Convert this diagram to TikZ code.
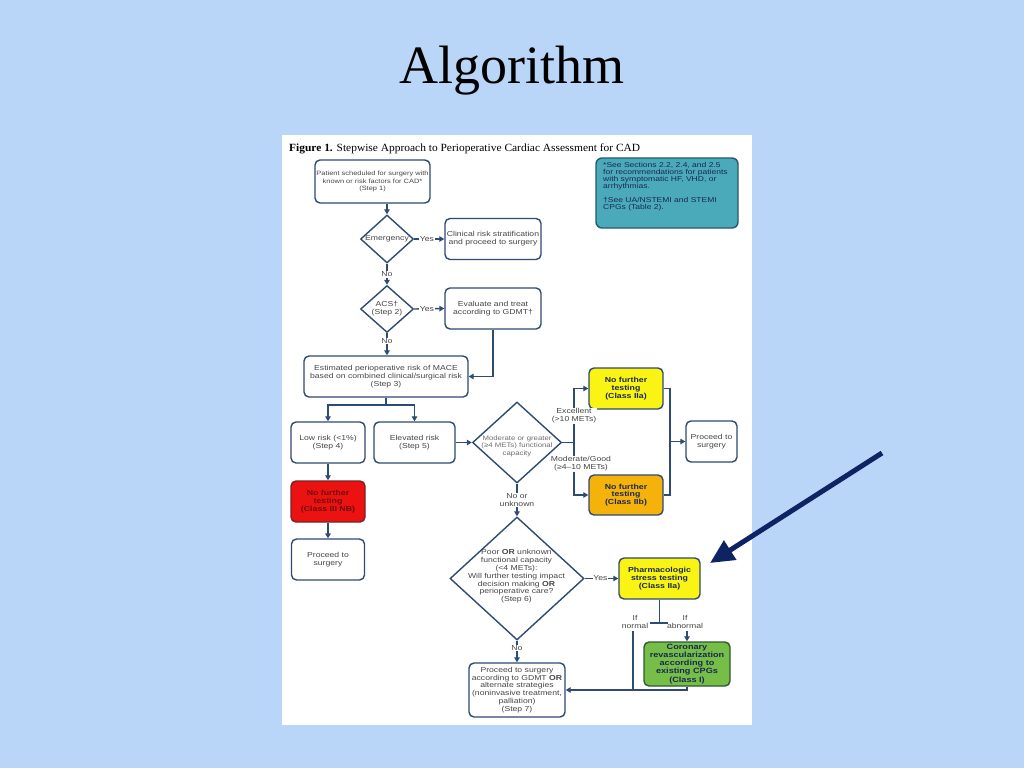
\documentclass[tikz,border=0pt]{standalone}
\usepackage{fontspec}
\usepackage{graphicx}
\setmainfont{Liberation Serif}
\newfontfamily\flowfont[FakeStretch=1.2]{Liberation Sans}
\usetikzlibrary{arrows.meta,shapes.geometric,calc}
\definecolor{bg}{RGB}{185,214,248}
\definecolor{lc}{RGB}{45,75,115}
\definecolor{tx}{RGB}{70,70,70}
\definecolor{tlight}{RGB}{110,110,110}
\definecolor{redf}{RGB}{236,18,18}
\definecolor{redb}{RGB}{120,35,35}
\definecolor{redd}{RGB}{110,10,10}
\definecolor{yel}{RGB}{250,244,20}
\definecolor{org}{RGB}{245,178,10}
\definecolor{grn}{RGB}{118,190,72}
\definecolor{grnd}{RGB}{45,90,50}
\definecolor{tealf}{RGB}{74,170,186}
\definecolor{teald}{RGB}{35,90,110}
\definecolor{navy}{RGB}{14,36,98}
\definecolor{notetx}{RGB}{25,40,80}
\begin{document}
\begin{tikzpicture}[x=1pt,y=-1pt,
  fs/.style 2 args={font=\flowfont\fontsize{#1}{#2}\selectfont},
  box/.style={draw=lc, line width=1.4pt, rounded corners=5pt, fill=white, align=center, text=tx, inner sep=0pt, fs={7.2}{8}},
  dia/.style={draw=lc, line width=1.4pt, shape=diamond, fill=white, inner sep=0pt},
  dtext/.style={align=center, text=tx, inner sep=0pt, fs={7.2}{8}},
  flow/.style={draw=lc, line width=1.4pt},
  arr/.style={flow, -{Triangle[length=5pt,width=5.5pt]}},
  lbl/.style={fill=white, text=tx, inner sep=0.8pt, fs={7.2}{8}, align=center},
  boldbox/.style={box, text=notetx, font=\flowfont\bfseries\fontsize{7.3}{7.8}\selectfont}
]
\useasboundingbox (0,0) rectangle (1024,768);
\fill[bg] (0,0) rectangle (1024,768);
\fill[white] (282,135) rectangle (752,725);

\node[anchor=base, inner sep=0, font=\fontsize{54}{60}\selectfont] (title) at (512,83) {Algorithm};
\node[anchor=base west, inner sep=0, font=\fontsize{11}{13}\selectfont] (cap) at (289,151)
  {\resizebox{351pt}{\height}{\textbf{Figure 1.} Stepwise Approach to Perioperative Cardiac Assessment for CAD}};

% note
\node[draw=teald, line width=1.4pt, fill=tealf, rounded corners=6pt, minimum width=142, minimum height=70] (note) at (667,193) {};
\node[anchor=north west, align=left, text=notetx, inner sep=0, fs={7.1}{7}] (notetxt) at (603,162)
  {*See Sections 2.2, 2.4, and 2.5\\for recommendations for patients\\with symptomatic HF, VHD, or\\arrhythmias.\\[7pt]†See UA/NSTEMI and STEMI\\CPGs (Table 2).};

% nodes
\node[box, minimum width=115, minimum height=43, fs={6.2}{7.3}] (s1) at (372.5,181.5)
  {Patient scheduled for surgery with\\known or risk factors for CAD*\\(Step 1)};
\node[dia, minimum width=53, minimum height=48] (em) at (387,239) {};
\node[dtext] (emt) at (em.center) {Emergency};
\node[box, minimum width=96, minimum height=41] (cl) at (493,239) {Clinical risk stratification\\and proceed to surgery};
\node[dia, minimum width=53, minimum height=47] (acs) at (387,309) {};
\node[dtext] (acst) at (acs.center) {ACS†\\(Step 2)};
\node[box, minimum width=96, minimum height=41] (ev) at (493,308.5) {Evaluate and treat\\according to GDMT†};
\node[box, minimum width=164, minimum height=41] (s3) at (386,376.5)
  {Estimated perioperative risk of MACE\\based on combined clinical/surgical risk\\(Step 3)};
\node[box, minimum width=74, minimum height=41] (low) at (328,442.5) {Low risk (<1\%)\\(Step 4)};
\node[box, minimum width=81, minimum height=41] (elev) at (414.5,442.5) {Elevated risk\\(Step 5)};
\node[boldbox, fill=redf, draw=redb, text=redd, minimum width=74, minimum height=41] (red) at (328,501.5)
  {No further\\testing\\(Class III NB)};
\node[box, minimum width=73, minimum height=41] (p1) at (328,559.5) {Proceed to\\surgery};

\node[dia, minimum width=89, minimum height=81] (mod) at (517,442.5) {};
\node[dtext, text=tlight, fs={6.5}{7.5}] (modt) at (517,446) {Moderate or greater\\(≥4 METs) functional\\capacity};
\node[boldbox, fill=yel, minimum width=74, minimum height=41] (y1) at (626,388.5) {No further\\testing\\(Class IIa)};
\node[boldbox, fill=org, minimum width=74, minimum height=40] (o1) at (626,495) {No further\\testing\\(Class IIb)};
\node[box, minimum width=51, minimum height=41] (p2) at (711.5,441.5) {Proceed to\\surgery};

\node[dia, minimum width=134, minimum height=123] (poor) at (517,578.5) {};
\node[dtext, fs={7.2}{7.8}] (poort) at (516.5,576.5)
  {Poor \textbf{OR} unknown\\functional capacity\\(<4 METs):\\Will further testing impact\\decision making \textbf{OR}\\perioperative care?\\(Step 6)};
\node[boldbox, fill=yel, minimum width=81, minimum height=41] (ph) at (659.5,578.5) {Pharmacologic\\stress testing\\(Class IIa)};
\node[boldbox, fill=grn, draw=grnd, minimum width=86, minimum height=44, font=\flowfont\bfseries\fontsize{7.6}{8.1}\selectfont] (gr) at (687,664)
  {Coronary\\revascularization\\according to\\existing CPGs\\(Class I)};
\node[box, minimum width=96, minimum height=54, fs={7.2}{7.9}] (s7) at (517,690)
  {Proceed to surgery\\according to GDMT \textbf{OR}\\alternate strategies\\(noninvasive treatment,\\palliation)\\(Step 7)};

% connectors
\draw[arr] (s1.south -| em.north) -- (em.north);
\draw[arr] (em.east) -- node[lbl, pos=0.42] (y_em) {Yes} (cl.west);
\draw[arr] (em.south) -- node[lbl] (n_em) {No} (acs.north);
\draw[arr] (acs.east) -- node[lbl, pos=0.42] (y_acs) {Yes} (ev.west);
\draw[arr] (acs.south) -- node[lbl, pos=0.35] (n_acs) {No} (acs.south |- s3.north);
\draw[arr] (ev.south) |- (s3.east);
\coordinate (sp) at (386,405);
\draw[flow] (s3.south) -- (sp);
\draw[arr] (sp) -| (low.north);
\draw[arr] (sp) -| (elev.north);
\draw[arr] (elev.east) -- (mod.west);
\draw[arr] (low.south) -- (red.north);
\draw[arr] (red.south) -- (p1.north);

\coordinate (mj) at (574,442.5);
\draw[flow] (mod.east) -- (mj);
\draw[arr] (mj) |- (y1.west);
\draw[arr] (mj) |- (o1.west);
\node[lbl] (exc) at (574,416) {Excellent\\(>10 METs)};
\node[lbl] (mg) at (581,464) {Moderate/Good\\(≥4–10 METs)};
\coordinate (rj) at (670,441.5);
\draw[flow] (y1.east) -| (rj);
\draw[flow] (o1.east) -| (rj);
\draw[arr] (rj) -- (p2.west);

\draw[arr] (mod.south) -- node[lbl] (nu) {No or\\unknown} (poor.north);
\draw[arr] (poor.east) -- node[lbl, pos=0.47] (y_poor) {Yes} (ph.west);
\draw[arr] (poor.south) -- node[lbl, pos=0.33] (n_poor) {No} (s7.north);

\coordinate (tee) at (659.5,623);
\coordinate (teeL) at (650,623);
\coordinate (teeR) at (668,623);
\draw[flow] (ph.south) -- (tee);
\draw[flow] (teeL) -- (teeR);
\node[lbl, fill=none] (nl) at (635,622) {If\\normal};
\node[lbl, fill=none] (al) at (685,622) {If\\abnormal};
\coordinate (nt) at (633,631);
\coordinate (at) at (687,631);
\draw[flow] (nt) -- (nt |- s7.east);
\draw[arr] (at) -- (gr.north);
\draw[arr] (gr.south) |- (s7.east);

% pointer arrow
\coordinate (bs) at (882,453);
\coordinate (bt) at (710,563);
\draw[navy, line width=5pt, -{Triangle[length=24pt,width=22pt]}] (bs) -- (bt);
\end{tikzpicture}
\end{document}
